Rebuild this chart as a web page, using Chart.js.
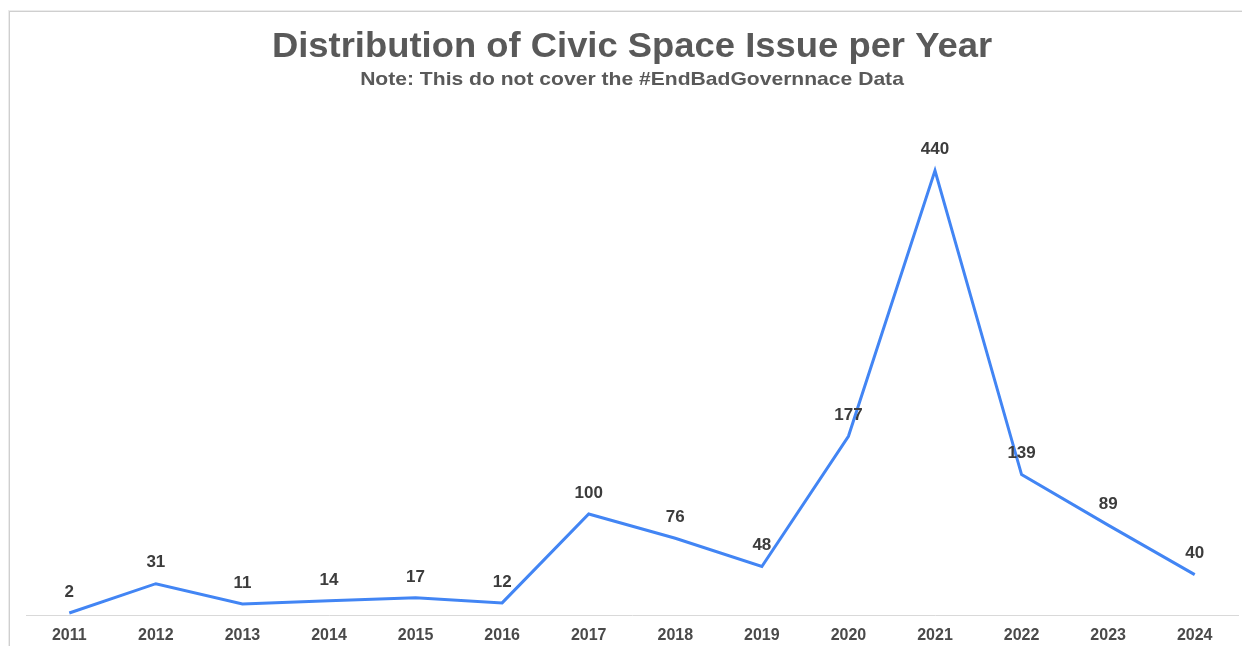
<!DOCTYPE html>
<html>
<head>
<meta charset="utf-8">
<script src="https://cdn.jsdelivr.net/npm/chart.js@4"></script>
<style>
  html, body { margin: 0; padding: 0; background: #fff; }
  #wrap { position: relative; width: 1242px; height: 646px; overflow: hidden; }
  #frame {
    position: absolute; left: 9px; top: 11px; right: -2px; bottom: -2px;
    border-left: 1px solid #cfcfcf; border-top: 1px solid #cfcfcf;
    box-shadow: -1px -1px 0 #ececec;
  }
  canvas { position: absolute; left: 0; top: 0; }
</style>
</head>
<body>
<div id="wrap">
  <div id="frame"></div>
  <canvas id="issuesChart" width="1242" height="646"></canvas>
</div>
<script>
var years = ["2011","2012","2013","2014","2015","2016","2017","2018","2019","2020","2021","2022","2023","2024"];
var issueCounts = [2, 31, 11, 14, 17, 12, 100, 76, 48, 177, 440, 139, 89, 40];

var chartTitle = "Distribution of Civic Space Issue per Year";
var chartNote = "Note: This do not cover the #EndBadGovernnace Data";

var fontFamily = "'Liberation Sans', Arial, Helvetica, sans-serif";

// heading + note, drawn a little wider than the stock font
var headings = {
    id: 'headings',
    afterDraw: function(chart) {
        var ctx = chart.ctx;
        var cx = (chart.chartArea.left + chart.chartArea.right) / 2;
        function line(text, size, y, stretch) {
            ctx.save();
            ctx.font = "bold " + size + "px " + fontFamily;
            ctx.fillStyle = "#595959";
            ctx.textAlign = "center";
            ctx.textBaseline = "middle";
            ctx.translate(cx, y);
            ctx.scale(stretch, 1);
            ctx.fillText(text, 0, 0);
            ctx.restore();
        }
        line(chartTitle, 35, 47, 1.04);
        line(chartNote, 19, 80, 1.11);
    }
};

// writes each value just above its point
var pointLabels = {
    id: 'pointLabels',
    afterDatasetsDraw: function(chart) {
        var ctx = chart.ctx;
        var meta = chart.getDatasetMeta(0);
        var values = chart.data.datasets[0].data;
        ctx.save();
        ctx.font = "bold 17px " + fontFamily;
        ctx.fillStyle = "#3c3c3c";
        ctx.textAlign = "center";
        ctx.textBaseline = "middle";
        meta.data.forEach(function(pt, i) {
            ctx.fillText(String(values[i]), pt.x, pt.y - 21);
        });
        ctx.restore();
    }
};

var ctx = document.getElementById("issuesChart").getContext("2d");

new Chart(ctx, {
    type: 'line',
    data: {
        labels: years,
        datasets: [{
            label: "Issues",
            data: issueCounts,
            borderColor: "#4285f4",
            backgroundColor: "#4285f4",
            borderWidth: 3,
            pointRadius: 0,
            fill: false,
            tension: 0
        }]
    },
    options: {
        responsive: false,
        animation: false,
        layout: {
            padding: { top: 110, left: 26, right: 4, bottom: 0 }
        },
        plugins: {
            legend: { display: false },
            tooltip: { enabled: false },
            title: { display: false },
            subtitle: { display: false }
        },
        scales: {
            x: {
                offset: true,
                afterFit: function(scale) { scale.height = 31; },
                grid: { display: false, drawTicks: false },
                border: { display: true, color: "#d9d9d9", width: 1 },
                ticks: {
                    color: "#4a4a4a",
                    padding: 11,
                    maxRotation: 0,
                    font: { family: fontFamily, size: 16, weight: 'bold', lineHeight: 1.2 }
                }
            },
            y: {
                display: false,
                min: 0,
                max: 500
            }
        }
    },
    plugins: [pointLabels, headings]
});
</script>
</body>
</html>
